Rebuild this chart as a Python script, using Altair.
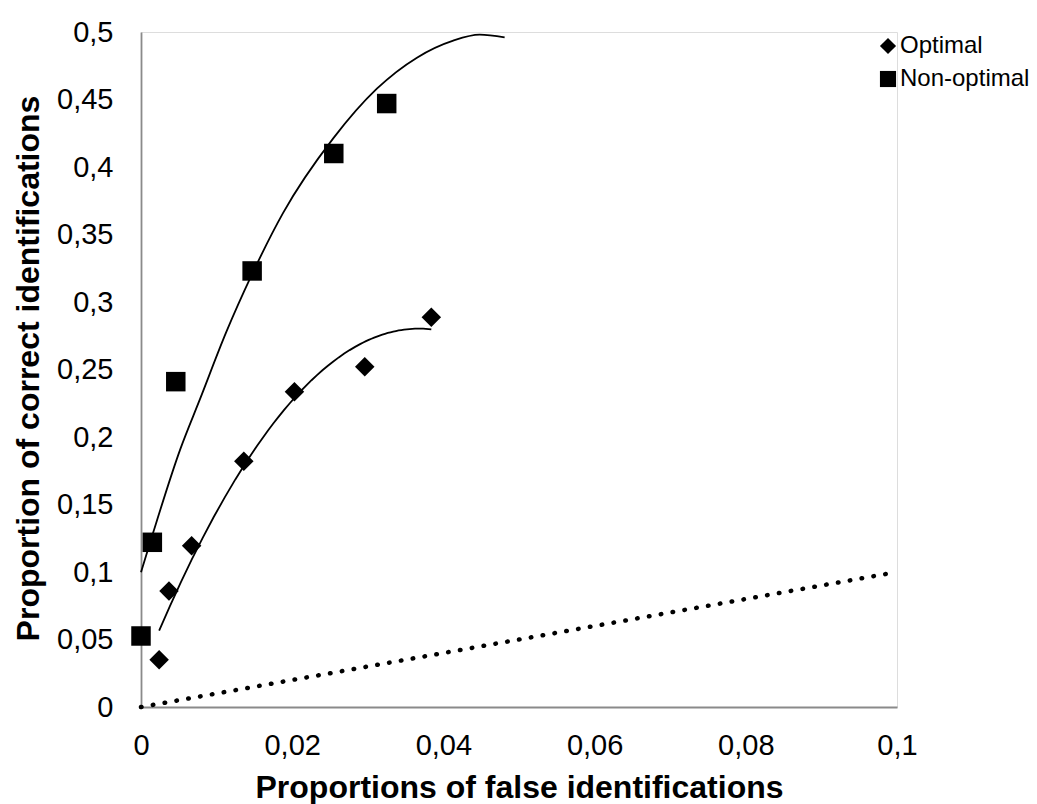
import altair as alt
import pandas as pd

# Optimal (diamonds)
opt_x = [0.0024, 0.0037, 0.0067, 0.0136, 0.0203, 0.0296, 0.0384]
opt_y = [0.035, 0.086, 0.1195, 0.182, 0.2336, 0.252, 0.2887]
# Non-optimal (squares)
non_x = [0.0, 0.0015, 0.0046, 0.0147, 0.0255, 0.0325]
non_y = [0.0526, 0.122, 0.241, 0.323, 0.410, 0.447]
# Non-optimal trend curve
non_trend_x = [0.0, 0.0016, 0.0052, 0.0078, 0.0113, 0.0146, 0.0188, 0.0254, 0.0312, 0.0365, 0.0413, 0.0448, 0.0481]
non_trend_y = [0.0998, 0.129, 0.191, 0.228, 0.278, 0.3195, 0.366, 0.421, 0.458, 0.481, 0.4936, 0.498, 0.496]
# chance line
ref_x = [0.0, 0.1]
ref_y = [0.0, 0.1]

series_names = ["Optimal", "Non-optimal"]
x_ticks = [0, 0.02, 0.04, 0.06, 0.08, 0.1]
y_ticks = [0, 0.05, 0.1, 0.15, 0.2, 0.25, 0.3, 0.35, 0.4, 0.45, 0.5]

pts = pd.DataFrame({
    "x": opt_x + non_x,
    "y": opt_y + non_y,
    "series": [series_names[0]] * len(opt_x) + [series_names[1]] * len(non_x),
})
ref = pd.DataFrame({"x": ref_x, "y": ref_y})
trend = pd.DataFrame({"x": non_trend_x, "y": non_trend_y})

FONT = "Liberation Sans"
label_expr = "replace(format(datum.value, '~g'), '.', ',')"

xs = alt.Scale(domain=[0, 0.1], nice=False, zero=False)
ys = alt.Scale(domain=[0, 0.5], nice=False, zero=False)

x_axis = alt.Axis(values=x_ticks, labelExpr=label_expr, grid=False, ticks=False, tickSize=0,
                  labelFlush=False, labelOverlap=False,
                  labelPadding=47, labelBaseline="alphabetic", labelFontSize=29, labelFont=FONT,
                  labelColor="black", domainColor="#8a8a8a", domainWidth=1.8,
                  title="Proportions of false identifications", titleFont=FONT,
                  titleFontSize=32, titleFontWeight="bold", titleColor="black",
                  titleX=378, titleY=90, titleBaseline="alphabetic", titleAnchor="middle")
y_axis = alt.Axis(values=y_ticks, labelExpr=label_expr, grid=False, ticks=False, tickSize=0,
                  labelFlush=False, labelOverlap=False,
                  labelPadding=28, labelFontSize=29, labelFont=FONT, labelColor="black",
                  domainColor="#8a8a8a", domainWidth=1.8,
                  title="Proportion of correct identifications", titleFont=FONT,
                  titleFontSize=32, titleFontWeight="bold", titleColor="black",
                  titleX=-103, titleY=336, titleBaseline="alphabetic", titleAnchor="middle")

base_x = alt.X("x:Q", scale=xs, axis=x_axis)
base_y = alt.Y("y:Q", scale=ys, axis=y_axis)

ref_line = alt.Chart(ref).mark_line(
    color="black", strokeWidth=4.5, strokeDash=[0.5, 11.5], strokeCap="round"
).encode(x=alt.X("x:Q", scale=xs), y=alt.Y("y:Q", scale=ys))

trend_non = alt.Chart(trend).mark_line(
    color="black", strokeWidth=1.8, interpolate="monotone"
).encode(x=alt.X("x:Q", scale=xs), y=alt.Y("y:Q", scale=ys))

trend_opt = alt.Chart(pts).transform_filter(
    alt.datum.series == "Optimal"
).transform_regression("x", "y", method="poly", order=2).mark_line(
    color="black", strokeWidth=1.8
).encode(x=alt.X("x:Q", scale=xs), y=alt.Y("y:Q", scale=ys))

points = alt.Chart(pts).mark_point(filled=True, opacity=1, color="black", size=380).encode(
    x=base_x, y=base_y,
    shape=alt.Shape("series:N", scale=alt.Scale(domain=series_names, range=["diamond", "square"]),
                    legend=alt.Legend(title=None, orient="none", legendX=735, legendY=2,
                                      labelFontSize=24, labelFont=FONT, labelColor="black",
                                      labelLimit=400,
                                      symbolSize=260, symbolFillColor="black",
                                      symbolStrokeColor="black", symbolStrokeWidth=0,
                                      labelOffset=0, rowPadding=9, padding=0)),
)

chart = alt.layer(ref_line, trend_opt, trend_non, points).properties(
    width=756, height=675,
    padding={"left": 141, "top": 32, "right": 140, "bottom": 97},
    autosize=alt.AutoSizeParams(type="none"),
).configure_view(stroke=None).configure(background="white")

chart.save("out.html", embed_options={"renderer": "svg", "actions": False})
